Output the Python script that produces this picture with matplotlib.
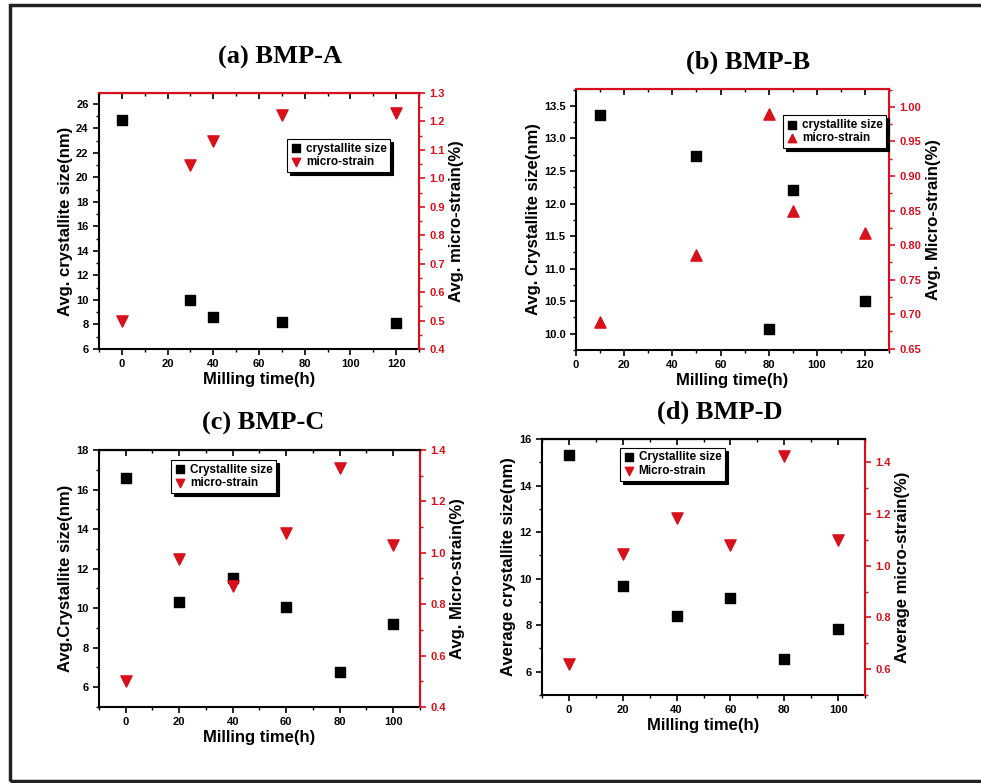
import numpy as np
import matplotlib.pyplot as plt
from matplotlib.patches import Rectangle
from matplotlib.ticker import AutoMinorLocator

RED = '#d8101c'

# (a) BMP-A
time_a = [0, 30, 40, 70, 120]
size_a = [24.7, 10.0, 8.57, 8.22, 8.12]
strain_a = [0.50, 1.045, 1.13, 1.222, 1.228]

# (b) BMP-B
time_b = [10, 50, 80, 90, 120]
size_b = [13.36, 12.73, 10.08, 12.21, 10.51]
strain_b = [0.688, 0.786, 0.99, 0.85, 0.817]

# (c) BMP-C
time_c = [0, 20, 40, 60, 80, 100]
size_c = [16.6, 10.3, 11.5, 10.05, 6.75, 9.22]
strain_c = [0.50, 0.975, 0.87, 1.078, 1.33, 1.03]

# (d) BMP-D
time_d = [0, 20, 40, 60, 80, 100]
size_d = [15.31, 9.70, 8.38, 9.16, 6.53, 7.84]
strain_d = [0.62, 1.045, 1.185, 1.08, 1.425, 1.10]

plt.rcParams['font.family'] = ['Liberation Sans', 'DejaVu Sans']
plt.rcParams['font.weight'] = 'bold'

fig = plt.figure(figsize=(9.81, 7.83), dpi=100)

# outer frame (runs off the right edge like the scan)
fig.patches.append(Rectangle((10 / 981, 2 / 783), 1.2, 776 / 783, transform=fig.transFigure,
                             fill=False, edgecolor='#222222', linewidth=2.5))


def panel(rect, title, title_xy, t, size, strain, up, xlim, xticks, ylim, yticks, y2lim, y2ticks,
          y2fmt, ylabel, y2label, labels, leg_xy, top_red):
    ax = fig.add_axes(rect)
    ax2 = ax.twinx()
    ax.scatter(t, size, marker='s', s=50, color='black', zorder=3, label=labels[0])
    ax2.scatter(t, strain, marker='^' if up else 'v', s=65, color=RED, zorder=3, label=labels[1])

    ax.set_xlim(xlim)
    ax.set_xticks(xticks)
    ax.set_ylim(ylim)
    ax.set_yticks(yticks)
    ax2.set_ylim(y2lim)
    ax2.set_yticks(y2ticks)
    ax2.set_yticklabels([y2fmt.format(v) for v in y2ticks])

    ax.xaxis.set_minor_locator(AutoMinorLocator(2))
    ax.yaxis.set_minor_locator(AutoMinorLocator(2))
    ax2.yaxis.set_minor_locator(AutoMinorLocator(2))
    ax.tick_params(axis='both', which='major', direction='out', length=4, width=1.2, labelsize=8)
    ax.tick_params(axis='both', which='minor', direction='out', length=2, width=1)
    ax2.tick_params(axis='y', which='major', direction='out', length=4, width=1.2, colors=RED,
                    labelsize=8)
    ax2.tick_params(axis='y', which='minor', direction='out', length=2, width=1, colors=RED)
    for lab in ax.get_xticklabels() + ax.get_yticklabels() + ax2.get_yticklabels():
        lab.set_fontweight('bold')

    # inward ticks along the top edge
    top_col = RED if top_red else 'black'
    sec = ax.secondary_xaxis('top')
    sec.set_xticks(xticks)
    sec.xaxis.set_minor_locator(AutoMinorLocator(2))
    sec.tick_params(which='major', direction='in', length=4, width=1.2, labeltop=False,
                    color='black')
    sec.tick_params(which='minor', direction='in', length=2, width=1, color='black')
    sec.spines['top'].set_color(top_col)
    sec.spines['top'].set_linewidth(1.5)

    for s in ['left', 'bottom']:
        ax.spines[s].set_linewidth(1.5)
    ax2.spines['right'].set_color(RED)
    ax2.spines['right'].set_linewidth(1.5)
    ax2.spines['top'].set_color(top_col)
    ax2.spines['top'].set_linewidth(1.5)
    ax2.spines['left'].set_visible(False)
    ax2.spines['bottom'].set_visible(False)

    ax.set_xlabel('Milling time(h)', fontsize=12, fontweight='bold', labelpad=2)
    ax.set_ylabel(ylabel, fontsize=12, fontweight='bold', labelpad=2)
    ax2.set_ylabel(y2label, fontsize=12, fontweight='bold', labelpad=3)

    h1, l1 = ax.get_legend_handles_labels()
    h2, l2 = ax2.get_legend_handles_labels()
    leg = ax2.legend(h1 + h2, l1 + l2, loc='upper left', bbox_to_anchor=leg_xy,
                     prop={'weight': 'bold', 'size': 8.5}, frameon=True, fancybox=False,
                     shadow={'color': 'black', 'alpha': 1}, borderpad=0.3, labelspacing=0.15,
                     handletextpad=0.3, handlelength=1.0, markerscale=0.75, borderaxespad=0)
    leg.get_frame().set_edgecolor('black')
    leg.get_frame().set_linewidth(0.8)

    fig.text(title_xy[0], title_xy[1], title, ha='center', va='center', fontsize=19,
             fontweight='bold', family='Liberation Serif')


panel([0.1009, 0.5543, 0.3262, 0.3270], '(a) BMP-A', (280 / 981, 1 - 57 / 783),
      time_a, size_a, strain_a, False, (-10, 130), np.arange(0, 121, 20), (6, 26.9),
      np.arange(6, 27, 2), (0.4, 1.3), np.arange(0.4, 1.31, 0.1), '{:.1f}',
      'Avg. crystallite size(nm)', 'Avg. micro-strain(%)',
      ('crystallite size', 'micro-strain'), (0.5875, 0.82), True)

panel([0.5872, 0.5530, 0.3191, 0.3333], '(b) BMP-B', (748 / 981, 1 - 62 / 783),
      time_b, size_b, strain_b, True, (0, 130), np.arange(0, 121, 20), (9.75, 13.76),
      np.arange(10, 13.6, 0.5), (0.648, 1.026), np.arange(0.65, 1.001, 0.05), '{:.2f}',
      'Avg. Crystallite size(nm)', 'Avg. Micro-strain(%)',
      ('crystallite size', 'micro-strain'), (0.661, 0.90), True)

panel([0.1009, 0.0971, 0.3272, 0.3282], '(c) BMP-C', (263 / 981, 1 - 423 / 783),
      time_c, size_c, strain_c, False, (-10, 110), np.arange(0, 101, 20), (5, 18),
      np.arange(6, 19, 2), (0.4, 1.4), np.arange(0.4, 1.41, 0.2), '{:.1f}',
      'Avg.Crystallite size(nm)', 'Avg. Micro-strain(%)',
      ('Crystallite size', 'micro-strain'), (0.224, 0.961), False)

panel([0.5525, 0.1124, 0.3293, 0.3270], '(d) BMP-D', (720 / 981, 1 - 412 / 783),
      time_d, size_d, strain_d, False, (-10, 110), np.arange(0, 101, 20), (5, 16),
      np.arange(6, 17, 2), (0.5, 1.49), np.arange(0.6, 1.41, 0.2), '{:.1f}',
      'Average crystallite size(nm)', 'Average micro-strain(%)',
      ('Crystallite size', 'Micro-strain'), (0.241, 0.965), False)

fig.savefig('out.png', dpi=100)
